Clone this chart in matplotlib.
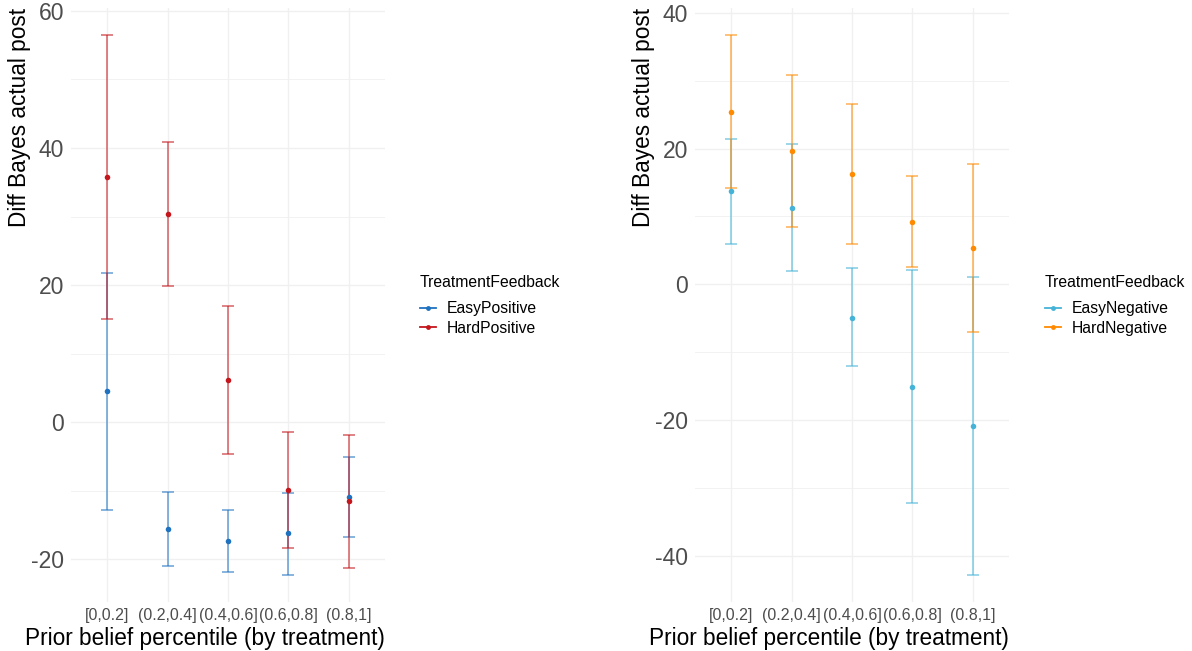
import numpy as np
import matplotlib
matplotlib.use("Agg")
import matplotlib.pyplot as plt
from matplotlib.lines import Line2D

plt.rcParams["font.family"] = ["Liberation Sans", "DejaVu Sans"]

# Prior belief bins
categories = ["[0,0.2]", "(0.2,0.4]", "(0.4,0.6]", "(0.6,0.8]", "(0.8,1]"]

# Positive feedback treatments: mean and confidence bounds
easy_pos_mean = [4.5, -15.5, -17.3, -16.2, -10.9]
easy_pos_low = [-12.8, -20.9, -21.8, -22.2, -16.7]
easy_pos_high = [21.7, -10.1, -12.8, -10.3, -5.0]

hard_pos_mean = [35.8, 30.4, 6.2, -9.8, -11.5]
hard_pos_low = [15.0, 19.9, -4.6, -18.3, -21.2]
hard_pos_high = [56.5, 40.9, 16.9, -1.4, -1.9]

# Negative feedback treatments
easy_neg_mean = [13.7, 11.3, -4.9, -15.1, -20.9]
easy_neg_low = [5.9, 1.95, -12.1, -32.2, -42.8]
easy_neg_high = [21.4, 20.6, 2.35, 2.15, 1.07]

hard_neg_mean = [25.4, 19.7, 16.3, 9.2, 5.3]
hard_neg_low = [14.2, 8.5, 6.0, 2.6, -7.0]
hard_neg_high = [36.7, 30.9, 26.6, 15.9, 17.7]

C_EASY_POS = "#1f72c0"
C_HARD_POS = "#c4161c"
C_EASY_NEG = "#45b3d8"
C_HARD_NEG = "#ff8a00"

GRID = "#f0f0f0"
TICK_GRAY = "#4d4d4d"

fig = plt.figure(figsize=(11.92, 6.51), dpi=100)
fig.patch.set_facecolor("white")

ax_l = fig.add_axes([71 / 1192, 1 - 602 / 651, 314 / 1192, 594 / 651])
ax_r = fig.add_axes([695 / 1192, 1 - 602 / 651, 314 / 1192, 594 / 651])

x = np.arange(1, len(categories) + 1)


def draw_series(ax, mean, low, high, color):
    mean = np.asarray(mean)
    low = np.asarray(low)
    high = np.asarray(high)
    yerr = np.vstack([mean - low, high - mean])
    ax.errorbar(x, mean, yerr=yerr, fmt="none", ecolor=color,
                elinewidth=1.15, capsize=4.3, capthick=1.15,
                alpha=0.65, zorder=3)
    ax.plot(x, mean, "o", color=color, markersize=4.0, zorder=4,
            markeredgewidth=0)


def style_axes(ax, ylim, yticks, minor, ylabel_pad):
    ax.set_xlim(0.4, 5.6)
    ax.set_ylim(*ylim)
    ax.set_xticks(x)
    ax.set_xticklabels(categories, fontsize=11.5, color=TICK_GRAY)
    ax.set_yticks(yticks)
    ax.set_yticklabels([str(v) for v in yticks], fontsize=16.5, color=TICK_GRAY)
    ax.set_yticks(minor, minor=True)
    ax.tick_params(axis="both", which="both", length=0)
    ax.tick_params(axis="x", pad=4)
    ax.tick_params(axis="y", pad=5)
    ax.grid(True, which="major", color=GRID, linewidth=1.0, zorder=0)
    ax.grid(True, which="minor", axis="y", color=GRID, linewidth=0.6, zorder=0)
    ax.set_axisbelow(True)
    for s in ax.spines.values():
        s.set_visible(False)
    ax.set_xlabel("Prior belief percentile (by treatment)", fontsize=16.3,
                  labelpad=3, loc="right")
    ax.set_ylabel("Diff Bayes actual post", fontsize=16.3,
                  labelpad=ylabel_pad, loc="top")


draw_series(ax_l, easy_pos_mean, easy_pos_low, easy_pos_high, C_EASY_POS)
draw_series(ax_l, hard_pos_mean, hard_pos_low, hard_pos_high, C_HARD_POS)
style_axes(ax_l, (-26.2, 60.4), [-20, 0, 20, 40, 60], [-10, 10, 30, 50], 0)

draw_series(ax_r, easy_neg_mean, easy_neg_low, easy_neg_high, C_EASY_NEG)
draw_series(ax_r, hard_neg_mean, hard_neg_low, hard_neg_high, C_HARD_NEG)
style_axes(ax_r, (-46.8, 40.7), [-40, -20, 0, 20, 40], [-30, -10, 10, 30], 0)


def add_legend(ax, labels, colors, anchor_x):
    handles = [Line2D([0], [0], color=c, linewidth=1.3, marker="o",
                      markersize=3.5, markeredgewidth=0) for c in colors]
    leg = ax.legend(handles, labels, title="TreatmentFeedback",
                    loc="upper left", bbox_to_anchor=(anchor_x, 1 - 275 / 651),
                    bbox_transform=fig.transFigure, frameon=False,
                    fontsize=11.3, title_fontsize=11.3, handlelength=1.02,
                    handletextpad=0.7, labelspacing=0.28, borderaxespad=0,
                    borderpad=0)
    leg._legend_box.align = "left"
    leg._legend_box.sep = 8


add_legend(ax_l, ["EasyPositive", "HardPositive"], [C_EASY_POS, C_HARD_POS], 420 / 1192)
add_legend(ax_r, ["EasyNegative", "HardNegative"], [C_EASY_NEG, C_HARD_NEG], 1045 / 1192)

fig.savefig("out.png", dpi=100, facecolor="white")
